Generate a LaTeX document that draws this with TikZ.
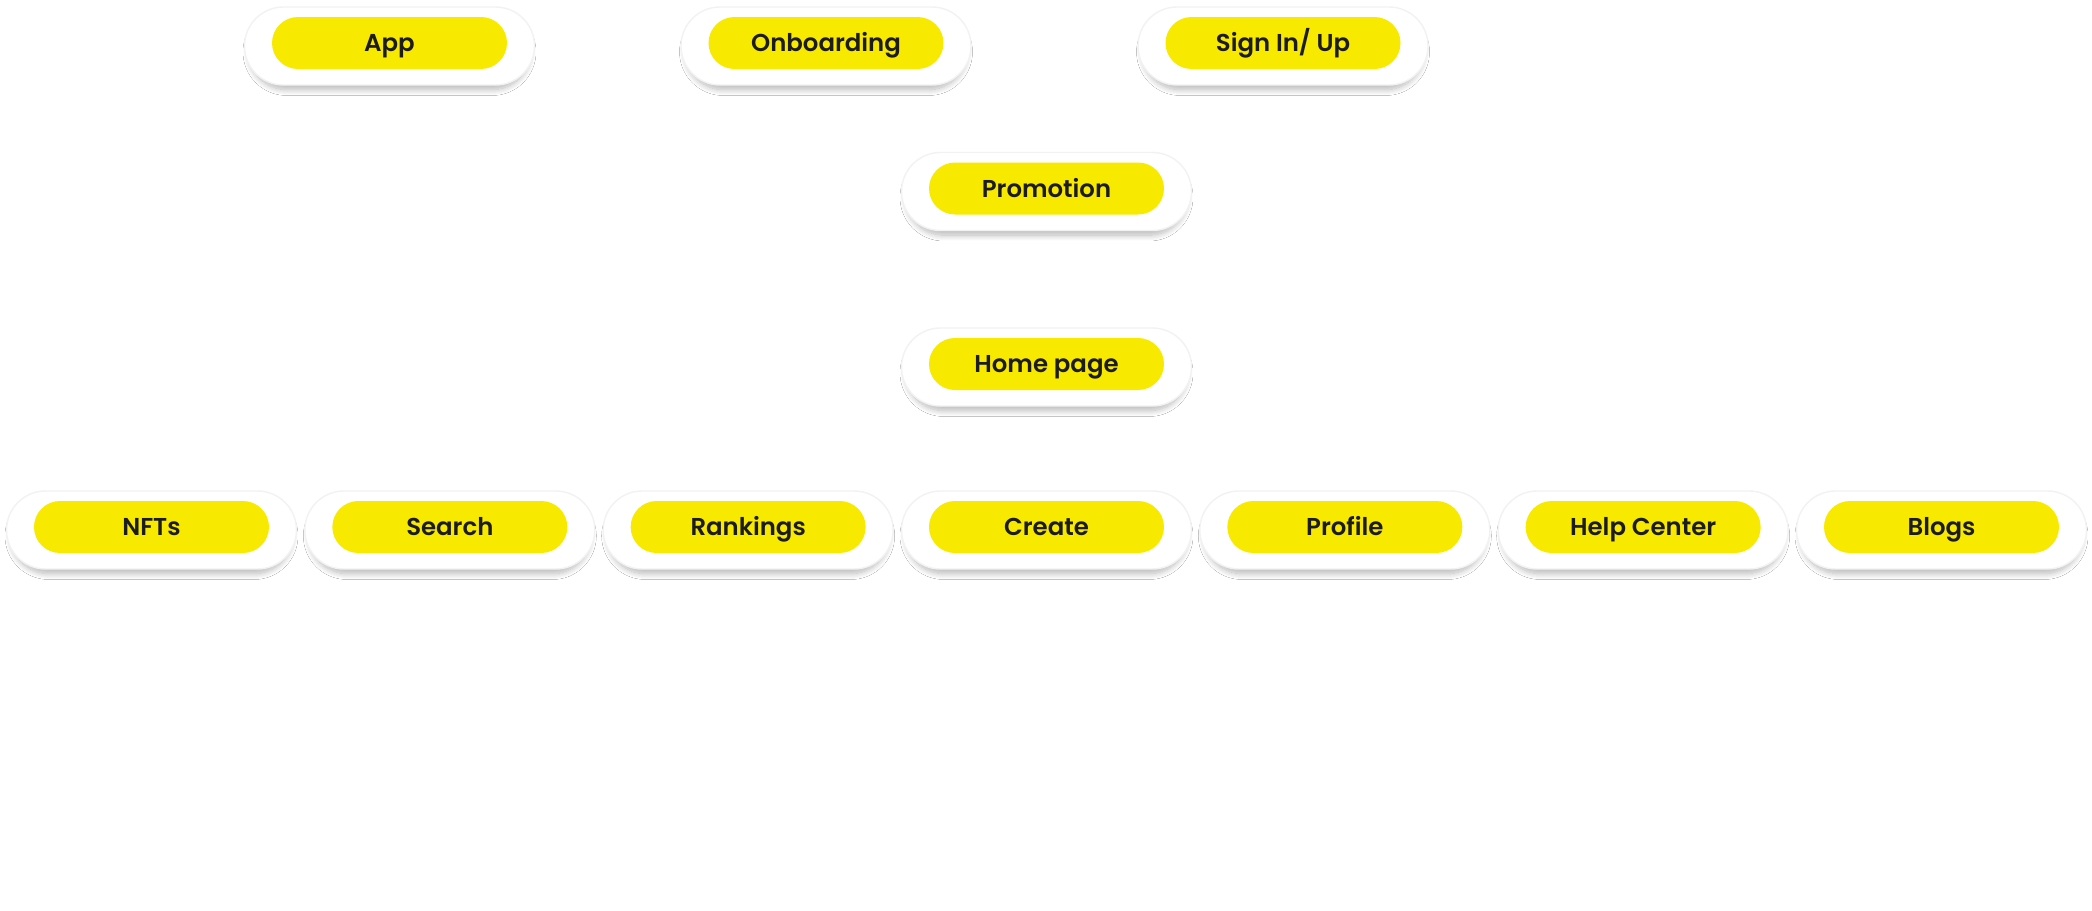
\documentclass[tikz,border=0pt]{standalone}
\usepackage{fontspec}
\setmainfont{Poppins}[BoldFont={Poppins SemiBold}]
\usetikzlibrary{shapes.misc,shadows.blur}
\definecolor{pillyellow}{HTML}{F8E900}
\definecolor{pilltext}{HTML}{1C1C1C}
\tikzset{
  pillbg/.style={rounded rectangle,fill=white,draw=black!5,line width=0.7pt,minimum width=145pt,minimum height=39pt,
    inner sep=0pt,blur shadow={shadow xshift=0pt,shadow yshift=-3pt,shadow scale=0.97,
      shadow blur radius=3pt,shadow blur steps=12,shadow opacity=28}},
  pill/.style={rounded rectangle,fill=pillyellow,minimum width=117.5pt,minimum height=26pt,
    inner sep=0pt,text height=8.6pt,text depth=0pt,text=pilltext,font=\bfseries\fontsize{12.2}{14}\selectfont}
}
\begin{document}
\begin{tikzpicture}[x=0.5pt,y=-0.5pt]
  \useasboundingbox[fill=white] (0,0) rectangle (2092,910);
  % top row, promotion, home page
  \foreach \nm/\x/\y/\lab in {app/389.5/43/App,onboarding/826/43/Onboarding,signin/1283/43/{Sign In/ Up},
      promotion/1046.5/188.5/Promotion,home/1046.5/364/Home page}{
    \node[pillbg] at (\x,\y+3) {};
    \node[pill] (\nm) at (\x,\y) {\lab};
  }
  % sections of the home page
  \foreach \nm/\i/\lab in {nfts/0/NFTs,search/1/Search,rankings/2/Rankings,create/3/Create,
      profile/4/Profile,help/5/Help Center,blogs/6/Blogs}{
    \node[pillbg] at (151.5+298.33*\i,530) {};
    \node[pill] (\nm) at (151.5+298.33*\i,527) {\lab};
  }
\end{tikzpicture}
\end{document}
